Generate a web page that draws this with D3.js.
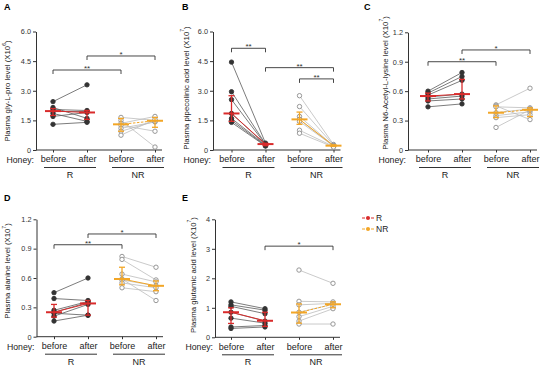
<!DOCTYPE html>
<html>
<head>
<meta charset="utf-8">
<script src="https://cdn.jsdelivr.net/npm/d3@7"></script>
<style>
  body { margin: 0; background: #fff; }
  svg { display: block; font-family: Arial, "Liberation Sans", sans-serif; }
</style>
</head>
<body>
<svg id="chart" width="550" height="366"></svg>
<script>
const categories = ["Rb", "Ra", "NRb", "NRa"];
const catLabels = ["before", "after", "before", "after"];
const groups = ["R", "NR"];

// A: gly-L-pro (X10^6)
const glyProRBefore = [2.45, 2.15, 2.05, 1.95, 1.85, 1.7, 1.3];
const glyProRAfter = [3.3, 1.6, 2.0, 1.95, 1.45, 1.9, 1.4];
const glyProNRBefore = [1.65, 1.5, 1.35, 1.25, 1.1, 0.95, 0.75];
const glyProNRAfter = [1.5, 0.15, 1.7, 0.95, 1.42, 1.45, 1.55];
const glyProMedian = [1.97, 1.9, 1.3, 1.48];
const glyProLow = [1.75, 1.55, 0.95, 1.15];
const glyProHigh = [2.1, 2.0, 1.6, 1.65];

// B: pipecolinic acid (X10^7)
const pipRBefore = [4.45, 2.95, 2.55, 1.85, 1.6, 1.5, 1.4];
const pipRAfter = [0.35, 0.3, 0.28, 0.27, 0.25, 0.22, 0.2];
const pipNRBefore = [2.75, 2.2, 1.7, 1.55, 1.45, 1.0, 0.85];
const pipNRAfter = [0.28, 0.25, 0.22, 0.2, 0.2, 0.18, 0.15];
const pipMedian = [1.85, 0.3, 1.55, 0.22];
const pipLow = [1.45, 0.22, 1.3, 0.18];
const pipHigh = [2.75, 0.34, 1.92, 0.26];

// C: N6-Acetyl-L-lysine (X10^7)
const acLysRBefore = [0.6, 0.58, 0.56, 0.54, 0.52, 0.5, 0.44];
const acLysRAfter = [0.79, 0.75, 0.71, 0.57, 0.55, 0.52, 0.47];
const acLysNRBefore = [0.46, 0.45, 0.44, 0.38, 0.35, 0.33, 0.23];
const acLysNRAfter = [0.63, 0.31, 0.43, 0.42, 0.39, 0.36, 0.41];
const acLysMedian = [0.55, 0.57, 0.38, 0.41];
const acLysLow = [0.5, 0.52, 0.33, 0.34];
const acLysHigh = [0.58, 0.72, 0.45, 0.43];

// D: alanine (X10^7)
const alaRBefore = [0.45, 0.39, 0.27, 0.25, 0.24, 0.21, 0.16];
const alaRAfter = [0.6, 0.37, 0.36, 0.35, 0.22, 0.33, 0.22];
const alaNRBefore = [0.82, 0.79, 0.64, 0.59, 0.58, 0.55, 0.5];
const alaNRAfter = [0.71, 0.58, 0.56, 0.37, 0.52, 0.5, 0.46];
const alaMedian = [0.25, 0.34, 0.59, 0.52];
const alaLow = [0.2, 0.22, 0.53, 0.47];
const alaHigh = [0.33, 0.37, 0.71, 0.57];

// E: glutamic acid (X10^7)
const gluRBefore = [1.2, 1.1, 1.05, 0.85, 0.65, 0.35, 0.3];
const gluRAfter = [0.97, 0.92, 0.8, 0.55, 0.48, 0.4, 0.35];
const gluNRBefore = [2.28, 1.22, 1.1, 0.85, 0.7, 0.55, 0.45];
const gluNRAfter = [1.83, 1.2, 1.15, 1.12, 1.05, 0.97, 0.45];
const gluMedian = [0.85, 0.56, 0.84, 1.12];
const gluLow = [0.47, 0.37, 0.48, 1.0];
const gluHigh = [1.0, 0.85, 1.13, 1.2];

const red = "#d92b2b";
const orange = "#f2a627";

const panels = [
  { letter: "A", lx: 4, ly: 10, x0: 36, off: 17, top: 31.5, bottom: 150, max: 6, ticks: [0, 1.5, 3, 4.5, 6], fmt: ".1f",
    ylab: "Plasma gly-L-pro level (X10", sup: "6", ylx: 7.5, yly: 91,
    data: [glyProRBefore, glyProRAfter, glyProNRBefore, glyProNRAfter], med: glyProMedian, lo: glyProLow, hi: glyProHigh,
    brackets: [[0, 2, 4.05, "**"], [1, 3, 4.76, "*"]], nrDash: true },
  { letter: "B", lx: 182, ly: 10, x0: 213, off: 18.5, top: 31.5, bottom: 150, max: 6, ticks: [0, 1.5, 3, 4.5, 6], fmt: ".1f",
    ylab: "Plasma pipecolinic acid level (X10", sup: "7", ylx: 186, yly: 88,
    data: [pipRBefore, pipRAfter, pipNRBefore, pipNRAfter], med: pipMedian, lo: pipLow, hi: pipHigh,
    brackets: [[0, 1, 5.15, "**"], [1, 3, 4.17, "**"], [2, 3, 3.6, "**"]], nrDash: false },
  { letter: "C", lx: 364, ly: 10, x0: 408, off: 20, top: 32.3, bottom: 150, max: 1.2, ticks: [0, 0.3, 0.6, 0.9, 1.2], fmt: ".1f",
    ylab: "Plasma N6-Acetyl-L-lysine level (X10", sup: "7", ylx: 385, yly: 83,
    data: [acLysRBefore, acLysRAfter, acLysNRBefore, acLysNRAfter], med: acLysMedian, lo: acLysLow, hi: acLysHigh,
    brackets: [[0, 2, 0.9, "**"], [1, 3, 1.02, "*"]], nrDash: true },
  { letter: "D", lx: 4, ly: 201, x0: 36.5, off: 17.5, top: 219.3, bottom: 336.7, max: 1.2, ticks: [0, 0.3, 0.6, 0.9, 1.2], fmt: ".1f",
    ylab: "Plasma alanine level (X10", sup: "7", ylx: 7.5, yly: 271,
    data: [alaRBefore, alaRAfter, alaNRBefore, alaNRAfter], med: alaMedian, lo: alaLow, hi: alaHigh,
    brackets: [[0, 2, 0.94, "**"], [1, 3, 1.05, "*"]], nrDash: false },
  { letter: "E", lx: 182, ly: 201, x0: 215, off: 16, top: 219.3, bottom: 337.3, max: 4, ticks: [0, 1, 2, 3, 4], fmt: "d",
    ylab: "Plasma glutamic acid level (X10", sup: "7", ylx: 193, yly: 275,
    data: [gluRBefore, gluRAfter, gluNRBefore, gluNRAfter], med: gluMedian, lo: gluLow, hi: gluHigh,
    brackets: [[1, 3, 3.09, "*"]], nrDash: true }
];

const svg = d3.select("#chart");

const drawPanel = p => {
  const g = svg.append("g");
  const x = d3.scalePoint().domain(categories).range([p.x0 + p.off, p.x0 + p.off + 102]);
  const y = d3.scaleLinear().domain([0, p.max]).range([p.bottom, p.top]);
  const xEnd = p.x0 + p.off + 109;

  g.append("text").attr("x", p.lx).attr("y", p.ly)
    .attr("font-size", 9).attr("font-weight", "bold").text(p.letter);

  // y axis
  const yAxis = d3.axisLeft(y).tickValues(p.ticks).tickSize(3).tickSizeOuter(0)
    .tickFormat(d => d === 0 ? "0" : d3.format(p.fmt)(d));
  const ya = g.append("g").attr("transform", `translate(${p.x0},0)`).call(yAxis);
  ya.selectAll("text").attr("font-size", 7.3).attr("fill", "#333").attr("x", -5);
  ya.selectAll("line,path").attr("stroke", "#333");

  // x axis
  g.append("line").attr("x1", p.x0).attr("x2", xEnd).attr("y1", p.bottom).attr("y2", p.bottom)
    .attr("stroke", "#333");
  const xa = g.append("g").attr("transform", `translate(0,${p.bottom})`)
    .call(d3.axisBottom(x).tickSize(2.5).tickFormat((d, i) => catLabels[i]));
  xa.select(".domain").remove();
  xa.selectAll("line").attr("stroke", "#333");
  xa.selectAll("text").attr("font-size", 9).attr("fill", "#222").attr("y", 6);

  g.append("text").attr("x", p.x0 - 2).attr("y", p.bottom + 13)
    .attr("text-anchor", "end").attr("font-size", 8.7).attr("fill", "#222").text("Honey:");

  groups.forEach((grp, i) => {
    const cx = (x(categories[2 * i]) + x(categories[2 * i + 1])) / 2;
    g.append("line").attr("x1", cx - 26).attr("x2", cx + 26)
      .attr("y1", p.bottom + 17.5).attr("y2", p.bottom + 17.5).attr("stroke", "#333");
    g.append("text").attr("x", cx).attr("y", p.bottom + 28).attr("text-anchor", "middle")
      .attr("font-size", 9).attr("fill", "#222").text(grp);
  });

  // y label
  const yl = g.append("text")
    .attr("transform", `translate(${p.ylx},${p.yly}) rotate(-90)`)
    .attr("text-anchor", "middle").attr("dy", "0.35em")
    .attr("font-size", 7.8).attr("fill", "#222");
  yl.append("tspan").text(p.ylab);
  yl.append("tspan").attr("font-size", 5).attr("dy", "-0.9em").text(p.sup);
  yl.append("tspan").attr("dy", "0.6em").text(")");

  // paired subject lines
  groups.forEach((grp, gi) => {
    const before = p.data[2 * gi], after = p.data[2 * gi + 1];
    const pairs = before.map((v, k) => [v, after[k]]);
    g.selectAll(null).data(pairs).enter().append("line")
      .attr("x1", x(categories[2 * gi])).attr("x2", x(categories[2 * gi + 1]))
      .attr("y1", d => y(d[0])).attr("y2", d => y(d[1]))
      .attr("stroke", gi === 0 ? "#5a5a5a" : "#bdbdbd").attr("stroke-width", 0.8);
  });

  // points
  p.data.forEach((vals, ci) => {
    const isR = ci < 2;
    g.selectAll(null).data(vals).enter().append("circle")
      .attr("cx", x(categories[ci])).attr("cy", d => y(d)).attr("r", 2.2)
      .attr("fill", isR ? "#333" : "#fff")
      .attr("stroke", isR ? "#333" : "#8c8c8c").attr("stroke-width", 0.9);
  });

  // median connecting lines
  groups.forEach((grp, gi) => {
    const c = gi === 0 ? red : orange;
    g.append("line")
      .attr("x1", x(categories[2 * gi])).attr("x2", x(categories[2 * gi + 1]))
      .attr("y1", y(p.med[2 * gi])).attr("y2", y(p.med[2 * gi + 1]))
      .attr("stroke", c).attr("stroke-width", 1)
      .attr("stroke-dasharray", gi === 1 && p.nrDash ? "2.5,1.5" : null);
  });

  // median + IQR
  categories.forEach((cat, ci) => {
    const c = ci < 2 ? red : orange;
    const cx = x(cat);
    g.append("line").attr("x1", cx).attr("x2", cx)
      .attr("y1", y(p.lo[ci])).attr("y2", y(p.hi[ci])).attr("stroke", c).attr("stroke-width", 1.3);
    [p.lo[ci], p.hi[ci]].forEach(v => {
      g.append("line").attr("x1", cx - 3).attr("x2", cx + 3)
        .attr("y1", y(v)).attr("y2", y(v)).attr("stroke", c).attr("stroke-width", 1.3);
    });
    g.append("line").attr("x1", cx - 8).attr("x2", cx + 8)
      .attr("y1", y(p.med[ci])).attr("y2", y(p.med[ci])).attr("stroke", c).attr("stroke-width", 2);
  });

  // significance brackets
  p.brackets.forEach(([a, b, lvl, txt]) => {
    const by = y(lvl), xa1 = x(categories[a]), xb1 = x(categories[b]);
    g.append("path")
      .attr("d", `M${xa1},${by + 4}V${by}H${xb1}V${by + 4}`)
      .attr("fill", "none").attr("stroke", "#333").attr("stroke-width", 0.9);
    g.append("text").attr("x", (xa1 + xb1) / 2).attr("y", by + 1)
      .attr("text-anchor", "middle").attr("font-size", 8).attr("fill", "#333").text(txt);
  });
};

panels.forEach(drawPanel);

// legend
const legend = svg.append("g");
groups.forEach((grp, i) => {
  const c = i === 0 ? red : orange;
  const ly = 218 + i * 11;
  legend.append("line").attr("x1", 362).attr("x2", 374).attr("y1", ly).attr("y2", ly)
    .attr("stroke", c).attr("stroke-width", 1).attr("stroke-dasharray", "3,1.5");
  legend.append("circle").attr("cx", 368).attr("cy", ly).attr("r", 2).attr("fill", c);
  legend.append("text").attr("x", 376).attr("y", ly).attr("dy", "0.35em")
    .attr("font-size", 8.5).attr("fill", "#222").text(grp);
});
</script>
</body>
</html>
